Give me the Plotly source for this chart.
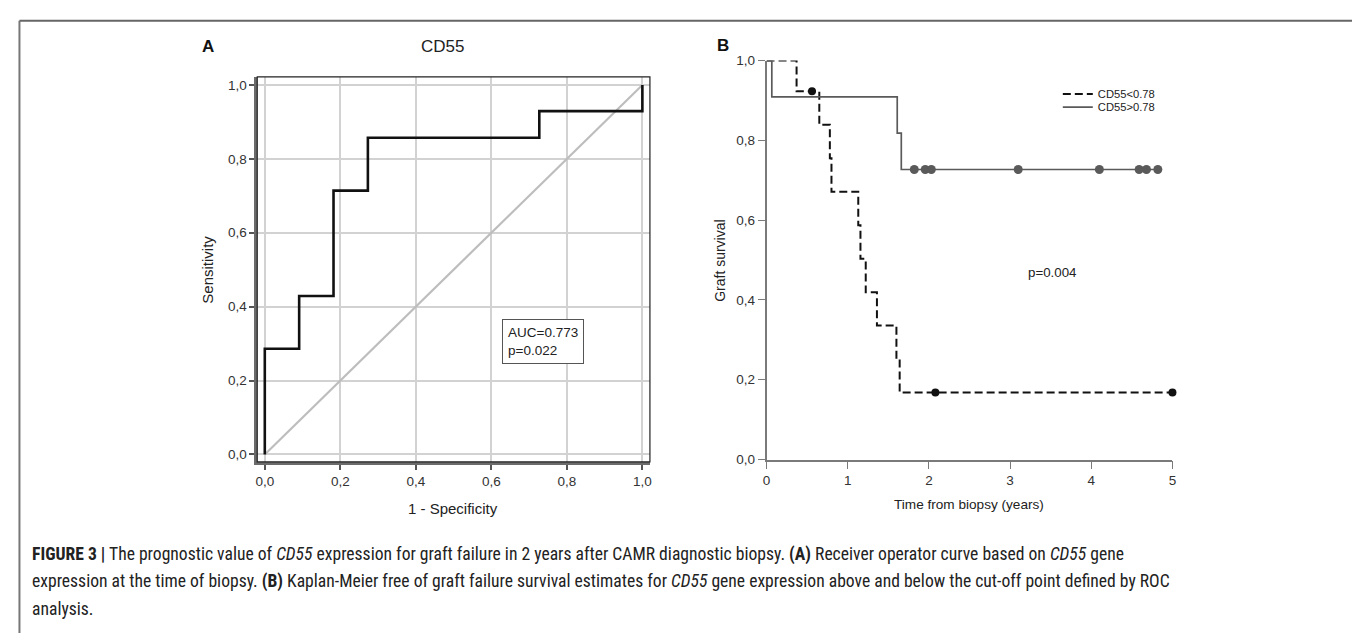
import plotly.graph_objects as go

W, H = 1360, 633

# ---------------- data ----------------
# Panel A: ROC curve for CD55 (1 - specificity, sensitivity)
roc_fpr = [0.0, 0.0, 0.091, 0.091, 0.182, 0.182, 0.273, 0.273, 0.727, 0.727, 1.0, 1.0]
roc_tpr = [0.0, 0.286, 0.286, 0.429, 0.429, 0.714, 0.714, 0.857, 0.857, 0.929, 0.929, 1.0]
ref_line = [0.0, 1.0]
auc_text = "AUC=0.773<br>p=0.022"
a_ticks = [0.0, 0.2, 0.4, 0.6, 0.8, 1.0]
a_ticklabels = ["0,0", "0,2", "0,4", "0,6", "0,8", "1,0"]

# Panel B: Kaplan-Meier graft survival
low_time = [0.0, 0.37, 0.65, 0.78, 0.80, 1.13, 1.157, 1.222, 1.36, 1.60, 1.64, 5.0]
low_surv = [1.0, 0.923, 0.839, 0.755, 0.671, 0.587, 0.503, 0.419, 0.336, 0.252, 0.168, 0.168]
low_cens_time = [0.56, 2.08, 5.0]
low_cens_surv = [0.923, 0.168, 0.168]

high_time = [0.0, 0.065, 1.61, 1.66, 4.82]
high_surv = [1.0, 0.909, 0.818, 0.727, 0.727]
high_cens_time = [1.82, 1.955, 2.03, 3.10, 4.10, 4.59, 4.68, 4.82]
high_cens_surv = [0.727, 0.727, 0.727, 0.727, 0.727, 0.727, 0.727, 0.727]

b_xticks = [0, 1, 2, 3, 4, 5]
b_xticklabels = ["0", "1", "2", "3", "4", "5"]
b_yticks = [0.0, 0.2, 0.4, 0.6, 0.8, 1.0]
b_yticklabels = ["0,0", "0,2", "0,4", "0,6", "0,8", "1,0"]
series_names = ["CD55<0.78", "CD55>0.78"]
p_text = "p=0.004"

caption_lines = [
    "<b>FIGURE 3 |</b> The prognostic value of <i>CD55</i> expression for graft failure in 2 years after CAMR diagnostic biopsy. <b>(A)</b> Receiver operator curve based on <i>CD55</i> gene",
    "expression at the time of biopsy. <b>(B)</b> Kaplan-Meier free of graft failure survival estimates for <i>CD55</i> gene expression above and below the cut-off point defined by ROC",
    "analysis.",
]


def X(px):
    return px / W


def Y(px):
    return 1 - px / H


FONT = "Liberation Sans, Arial, sans-serif"
CAPFONT = "Liberation Sans Narrow, Arial Narrow, Roboto Condensed, Liberation Sans, sans-serif"

fig = go.Figure()

# ---- Panel A traces ----
fig.add_trace(go.Scatter(x=ref_line, y=ref_line, mode="lines",
                         line=dict(color="#bdbdbd", width=2.2),
                         xaxis="x", yaxis="y", showlegend=False, hoverinfo="skip"))
fig.add_trace(go.Scatter(x=roc_fpr, y=roc_tpr, mode="lines",
                         line=dict(color="#111111", width=2.6),
                         xaxis="x", yaxis="y", showlegend=False))

# ---- Panel B traces ----
fig.add_trace(go.Scatter(x=low_time, y=low_surv, mode="lines", line_shape="hv",
                         line=dict(color="#111111", width=2, dash="8px,4px"),
                         name=series_names[0], xaxis="x2", yaxis="y2",
                         legend="legend", cliponaxis=False))
fig.add_trace(go.Scatter(x=high_time, y=high_surv, mode="lines", line_shape="hv",
                         line=dict(color="#5a5a5a", width=1.7),
                         name=series_names[1], xaxis="x2", yaxis="y2",
                         legend="legend2", cliponaxis=False))
fig.add_trace(go.Scatter(x=low_cens_time, y=low_cens_surv, mode="markers",
                         marker=dict(color="#111111", size=8),
                         xaxis="x2", yaxis="y2", showlegend=False, cliponaxis=False))
fig.add_trace(go.Scatter(x=high_cens_time, y=high_cens_surv, mode="markers",
                         marker=dict(color="#5a5a5a", size=9),
                         xaxis="x2", yaxis="y2", showlegend=False, cliponaxis=False))

tickfont = dict(family=FONT, size=13.5, color="#333333")

layout = dict(
    width=W, height=H,
    margin=dict(l=0, r=0, t=0, b=0),
    paper_bgcolor="white", plot_bgcolor="white",
    font=dict(family=FONT, color="#222222"),
    xaxis=dict(domain=[X(246.7), X(641.7)], range=[-0.02, 1.02],
               tickvals=a_ticks, ticktext=a_ticklabels, tickfont=tickfont,
               ticks="outside", ticklen=5, tickwidth=1.5, tickcolor="#555555",
               showgrid=True, gridcolor="#d2d2d2", gridwidth=1.6,
               showline=True, linecolor="#6b6b6b", linewidth=2.5,
               zeroline=False, anchor="y", fixedrange=True),
    yaxis=dict(domain=[Y(457.7), Y(63.3)], range=[-0.02, 1.022],
               tickvals=a_ticks, ticktext=a_ticklabels, tickfont=tickfont,
               ticks="outside", ticklen=5, tickwidth=1.5, tickcolor="#555555",
               showgrid=True, gridcolor="#d2d2d2", gridwidth=1.6,
               showline=True, linecolor="#6b6b6b", linewidth=2.5,
               zeroline=False, anchor="x", fixedrange=True),
    xaxis2=dict(domain=[X(759), X(1167.3)], range=[0, 5],
                tickvals=b_xticks, ticktext=b_xticklabels, tickfont=tickfont,
                ticks="outside", ticklen=8, tickwidth=1.2, tickcolor="#7a7a7a",
                showgrid=False, showline=True, linecolor="#7a7a7a", linewidth=1.5,
                zeroline=False, anchor="y2", fixedrange=True),
    yaxis2=dict(domain=[Y(455.3), Y(46.7)], range=[0, 1],
                tickvals=b_yticks, ticktext=b_yticklabels, tickfont=tickfont,
                ticks="outside", ticklen=7, tickwidth=1.2, tickcolor="#7a7a7a",
                showgrid=False, showline=True, linecolor="#7a7a7a", linewidth=1.5,
                zeroline=False, anchor="x2", fixedrange=True),
    legend=dict(x=X(1052), y=Y(66), xanchor="left", yanchor="top",
                font=dict(family=FONT, size=11.2, color="#222222"),
                bgcolor="rgba(0,0,0,0)", borderwidth=0, itemwidth=30),
    legend2=dict(x=X(1052), y=Y(79.5), xanchor="left", yanchor="top",
                 font=dict(family=FONT, size=11.2, color="#222222"),
                 bgcolor="rgba(0,0,0,0)", borderwidth=0, itemwidth=30),
)
fig.update_layout(**layout)

shapes = [
    # panel A frame (thin top/right)
    dict(type="rect", xref="x domain", yref="y domain", x0=0, x1=1, y0=0, y1=1,
         line=dict(color="#222222", width=1.2), layer="above"),
    # page border
    dict(type="line", xref="paper", yref="paper", x0=X(7.5), x1=X(7.5), y0=0, y1=Y(6),
         line=dict(color="#777777", width=2)),
    dict(type="line", xref="paper", yref="paper", x0=X(7.5), x1=X(1356), y0=Y(6), y1=Y(6),
         line=dict(color="#666666", width=2)),
    dict(type="line", xref="paper", yref="paper", x0=X(1356), x1=X(1356), y0=0, y1=Y(6),
         line=dict(color="#777777", width=2)),
]
fig.update_layout(shapes=shapes)


def txt(text, xpx, ypx, size, angle=0, xanchor="center", color="#222222", **kw):
    d = dict(text=text, x=X(xpx), y=Y(ypx), xref="paper", yref="paper",
             xanchor=xanchor, yanchor="middle", showarrow=False, textangle=angle,
             font=dict(size=size, color=color))
    d.update(kw)
    return d


ann = []
# Panel A texts
ann.append(txt("<b>A</b>", 197, 32, 17, color="#111111"))
ann.append(txt("CD55", 433, 32, 17))
ann.append(txt("Sensitivity", 197, 261, 15, angle=-90))
ann.append(txt("1 - Specificity", 444, 505, 15))
ann.append(dict(text=auc_text, x=0.737, y=0.305, xref="x", yref="y", align="left",
                showarrow=False, font=dict(size=13.5, color="#222222"),
                bordercolor="#555555", borderwidth=1, borderpad=5, bgcolor="white",
                xanchor="center", yanchor="middle"))
# Panel B texts
ann.append(txt("<b>B</b>", 715, 31, 17, color="#111111"))
ann.append(txt("Graft survival", 712, 252, 14, angle=-90))
ann.append(txt("Time from biopsy (years)", 963, 501, 13.6))
ann.append(txt(p_text, 1020, 263.5, 13.3, xanchor="left"))
# Caption
for i, line in enumerate(caption_lines):
    ann.append(dict(text=line, x=X(18), y=Y(553 + 27.5 * i), xref="paper", yref="paper",
                    xanchor="left", yanchor="middle", showarrow=False, align="left",
                    font=dict(family=CAPFONT, size=17.6, color="#222222")))
fig.update_layout(annotations=ann)

fig.write_html("out.html")
